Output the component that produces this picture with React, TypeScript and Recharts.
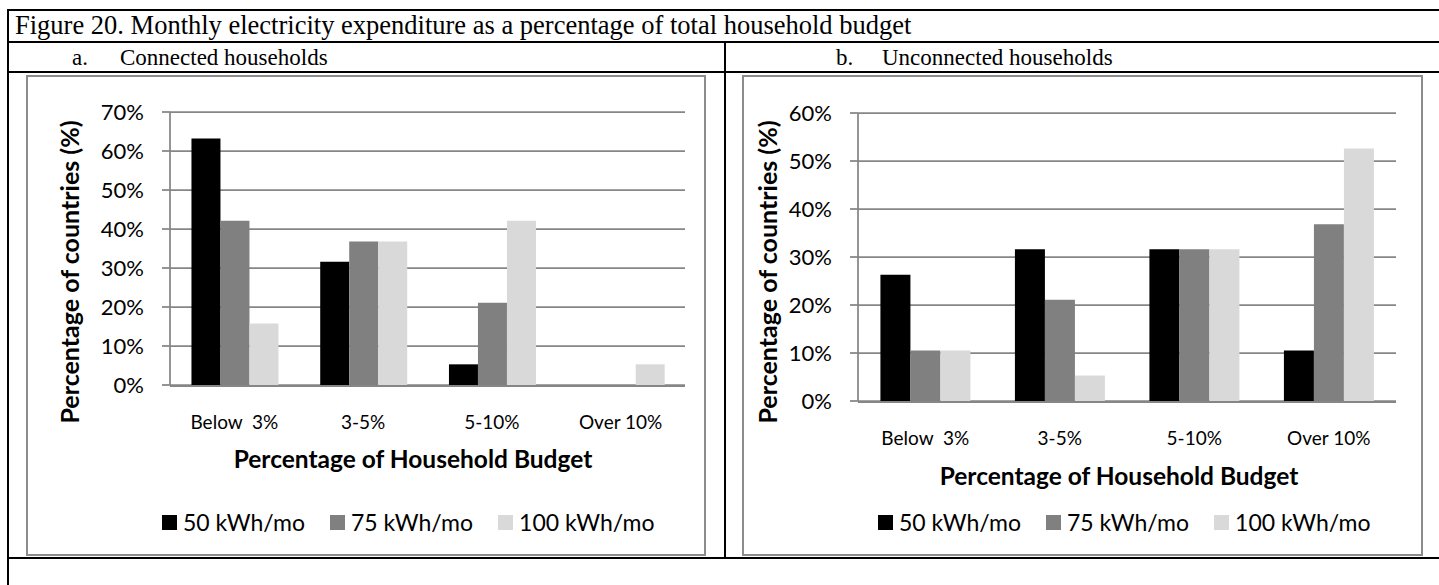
import { BarChart, Bar, XAxis, YAxis, CartesianGrid, Legend } from 'recharts'

const categories = ['Below  3%', '3-5%', '5-10%', 'Over 10%']
const seriesNames = ['50 kWh/mo', '75 kWh/mo', '100 kWh/mo']
const seriesColors = ['#000000', '#808080', '#d9d9d9']

// share of countries (%) falling in each budget band
const connected50 = [63.2, 31.6, 5.3, 0]
const connected75 = [42.1, 36.8, 21.1, 0]
const connected100 = [15.8, 36.8, 42.1, 5.3]

const unconnected50 = [26.3, 31.6, 31.6, 10.5]
const unconnected75 = [10.5, 21.1, 31.6, 36.8]
const unconnected100 = [10.5, 5.3, 31.6, 52.6]

const connectedTicks = [0, 10, 20, 30, 40, 50, 60, 70]
const unconnectedTicks = [0, 10, 20, 30, 40, 50, 60]

const figureTitle = 'Figure 20. Monthly electricity expenditure as a percentage of total household budget'
const panelLetters = ['a.', 'b.']
const panelTitles = ['Connected households', 'Unconnected households']
const xTitle = 'Percentage of Household Budget'
const yTitle = 'Percentage of countries (%)'

const seriesKeys = ['s50', 's75', 's100']
const AXIS_GRAY = '#868686'
const BOX_GRAY = '#8c8c8c'
const SANS = 'Lato, "Open Sans", sans-serif'
const SERIF = '"Liberation Serif", "Times New Roman", serif'

function buildRows(s50: number[], s75: number[], s100: number[]) {
  return categories.map((name, i) => ({ name, edge: i, s50: s50[i], s75: s75[i], s100: s100[i] }))
}

const connectedRows = buildRows(connected50, connected75, connected100)
const unconnectedRows = buildRows(unconnected50, unconnected75, unconnected100)
// tick marks sit between the categories, like Excel does
const edgeTicks = [...categories.map((_, i) => i), categories.length]

function CategoryTick({ x, y, payload }: any) {
  return (
    <text
      x={x}
      y={y + 36}
      textAnchor="middle"
      dominantBaseline="central"
      fontFamily={SANS}
      fontSize={19}
      fill="#000"
      style={{ whiteSpace: 'pre' }}
    >
      {payload.value}
    </text>
  )
}

function LegendRow({ payload }: any) {
  // keep series order (recharts sorts legend items by name otherwise)
  const items = [...(payload || [])].sort(
    (a: any, b: any) => seriesNames.indexOf(a.value) - seriesNames.indexOf(b.value),
  )
  return (
    <div style={{ display: 'flex', alignItems: 'center', height: 30, fontFamily: SANS, fontSize: 23, color: '#000' }}>
      {items.map((p: any) => (
        <span key={p.value} style={{ display: 'flex', alignItems: 'center', marginRight: 25, whiteSpace: 'nowrap' }}>
          <span style={{ width: 15, height: 15, background: p.color, marginRight: 6, display: 'inline-block' }} />
          {p.value}
        </span>
      ))}
    </div>
  )
}

interface PanelProps {
  left: number
  width: number
  rows: ReturnType<typeof buildRows>
  ticks: number[]
  plotLeft: number
  margin: { top: number; right: number; bottom: number }
  yTitleX: number
  xTitleX: number
  xTitleY: number
}

function Panel({ left, width, rows, ticks, plotLeft, margin, yTitleX, xTitleX, xTitleY }: PanelProps) {
  const height = 481
  return (
    <div style={{ position: 'absolute', left, top: 75, width, height }}>
      <div
        style={{
          position: 'absolute', inset: 0, border: `2px solid ${BOX_GRAY}`, boxSizing: 'border-box',
        }}
      />
      <BarChart
        width={width}
        height={height}
        data={rows}
        margin={{ left: 0, ...margin }}
        barCategoryGap="16.67%"
        barGap={0}
      >
        <CartesianGrid vertical={false} stroke={AXIS_GRAY} strokeWidth={1.75} />
        <XAxis
          xAxisId="edges"
          type="number"
          dataKey="edge"
          domain={[0, categories.length]}
          ticks={edgeTicks}
          allowDataOverflow
          height={1}
          tick={false}
          tickSize={7}
          stroke={AXIS_GRAY}
          strokeWidth={1.75}
        />
        <XAxis
          dataKey="name"
          height={1}
          interval={0}
          tickLine={false}
          axisLine={false}
          tickSize={0}
          tickMargin={0}
          tick={<CategoryTick />}
        />
        <YAxis
          width={plotLeft}
          domain={[0, ticks[ticks.length - 1]]}
          ticks={ticks}
          interval={0}
          tickSize={8}
          tickMargin={18}
          tickFormatter={(v) => `${v}%`}
          stroke={AXIS_GRAY}
          strokeWidth={1.75}
          tick={{ fill: '#000', fontSize: 22, fontFamily: SANS }}
        />
        {seriesKeys.map((key, i) => (
          <Bar key={key} dataKey={key} name={seriesNames[i]} fill={seriesColors[i]} isAnimationActive={false} />
        ))}
        <Legend
          verticalAlign="middle"
          align="center"
          content={<LegendRow />}
          wrapperStyle={{ left: 136, top: 432, width: 560, height: 30 }}
        />
      </BarChart>
      <div
        style={{
          position: 'absolute', left: yTitleX, top: 197, transform: 'translate(-50%, -50%) rotate(-90deg)',
          fontFamily: SANS, fontWeight: 700, fontSize: 25, whiteSpace: 'nowrap', color: '#000',
        }}
      >
        {yTitle}
      </div>
      <div
        style={{
          position: 'absolute', left: xTitleX, top: xTitleY, transform: 'translate(-50%, -50%)',
          fontFamily: SANS, fontWeight: 700, fontSize: 24.5, whiteSpace: 'nowrap', color: '#000',
        }}
      >
        {xTitle}
      </div>
    </div>
  )
}

const rule = { position: 'absolute' as const, background: '#000' }
const serifText = {
  position: 'absolute' as const, fontFamily: SERIF, fontSize: 23, lineHeight: '23px', whiteSpace: 'nowrap' as const, color: '#000',
}

export default function App() {
  return (
    <div style={{ position: 'absolute', left: 0, top: 0, width: 1439, height: 585, background: '#fff', overflow: 'hidden' }}>
      {/* table rules */}
      <div style={{ ...rule, left: 7, top: 9, width: 1432, height: 2 }} />
      <div style={{ ...rule, left: 7, top: 41, width: 1432, height: 2 }} />
      <div style={{ ...rule, left: 7, top: 71, width: 1432, height: 2 }} />
      <div style={{ ...rule, left: 7, top: 557, width: 1432, height: 2 }} />
      <div style={{ ...rule, left: 7, top: 9, width: 2, height: 576 }} />
      <div style={{ ...rule, left: 724, top: 41, width: 2, height: 518 }} />

      <div style={{ ...serifText, left: 15, top: 12, fontSize: 26.5, lineHeight: '26px' }}>{figureTitle}</div>
      <div style={{ ...serifText, left: 72, top: 46 }}>{panelLetters[0]}</div>
      <div style={{ ...serifText, left: 120, top: 46 }}>{panelTitles[0]}</div>
      <div style={{ ...serifText, left: 836, top: 46 }}>{panelLetters[1]}</div>
      <div style={{ ...serifText, left: 882, top: 46 }}>{panelTitles[1]}</div>

      <Panel
        left={26}
        width={680}
        rows={connectedRows}
        ticks={connectedTicks}
        plotLeft={144}
        margin={{ top: 37, right: 21, bottom: 169 }}
        yTitleX={43}
        xTitleX={387}
        xTitleY={383}
      />
      <Panel
        left={742}
        width={681}
        rows={unconnectedRows}
        ticks={unconnectedTicks}
        plotLeft={116}
        margin={{ top: 38, right: 27, bottom: 153 }}
        yTitleX={25}
        xTitleX={377}
        xTitleY={400}
      />
    </div>
  )
}
